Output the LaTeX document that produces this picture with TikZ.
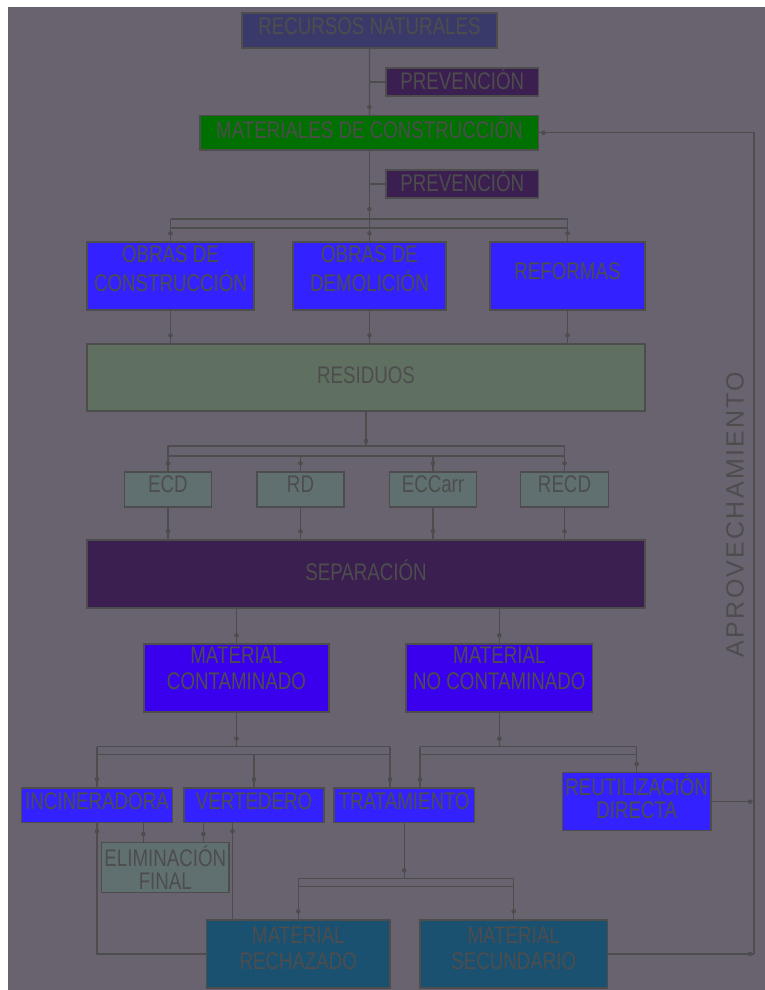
\documentclass[tikz,border=0pt]{standalone}
\usepackage{fontspec}
\setmainfont{Liberation Sans}
\newfontfamily\boxfont[FakeStretch=0.78]{Liberation Sans}
\newfontfamily\sidefont[LetterSpace=9]{Liberation Sans}
\usetikzlibrary{decorations.markings}
\definecolor{bg}{HTML}{69636F}
\definecolor{lc}{HTML}{4D4D4D}
\definecolor{crec}{HTML}{3A3A6A}
\definecolor{cprev}{HTML}{3B1F50}
\definecolor{cgreen}{HTML}{007000}
\definecolor{cblue}{HTML}{3322FF}
\definecolor{cviol}{HTML}{3A00EE}
\definecolor{cres}{HTML}{607060}
\definecolor{cgray}{HTML}{607070}
\definecolor{cteal}{HTML}{1A5070}
\newcommand\bt[2]{\raisebox{#1}[0pt][0pt]{\begin{tabular}{@{}c@{}}#2\end{tabular}}}
\tikzset{
  box/.style={draw=lc, line width=1.3pt, inner sep=0pt, text=lc,
    font=\boxfont\fontsize{24}{26}\selectfont},
  conn/.style={draw=lc, line width=1.3pt},
  dotto/.style={conn, postaction={decorate, decoration={markings,
    mark=at position -#1 with {\fill[lc] (0,0) circle (2.3pt);}}}},
  dotto/.default=8pt
}
\begin{document}
\begin{tikzpicture}[x=1pt,y=-1pt]
\useasboundingbox (0,0) rectangle (765,990);
\fill[white] (0,0) rectangle (765,990);
\fill[bg] (8,7) rectangle (765,990);

% nodes
\node[box, fill=crec, minimum width=255, minimum height=35] (rec) at (369.5,30.5) {\bt{-4.7pt}{RECURSOS NATURALES}};
\node[box, fill=cprev, minimum width=152.7, minimum height=28] (prev1) at (462.3,82) {\bt{-7.4pt}{PREVENCIÓN}};
\node[box, fill=cgreen, minimum width=338.7, minimum height=34.3] (mat) at (369.4,132.8) {\bt{-5pt}{MATERIALES DE CONSTRUCCIÓN}};
\node[box, fill=cprev, minimum width=152.7, minimum height=28] (prev2) at (462.3,184) {\bt{-7.4pt}{PREVENCIÓN}};

\node[box, fill=cblue, minimum width=167, minimum height=68] (oc) at (170.5,276) {\bt{-2pt}{OBRAS DE\\CONSTRUCCIÓN}};
\node[box, fill=cblue, minimum width=153, minimum height=68] (od) at (369.5,276) {\bt{-2pt}{OBRAS DE\\DEMOLICIÓN}};
\node[box, fill=cblue, minimum width=155, minimum height=68] (ref) at (567.5,276) {\bt{-4.4pt}{REFORMAS}};

\node[box, fill=cres, minimum width=558, minimum height=67] (res) at (366,377.5) {\bt{-7.4pt}{RESIDUOS}};

\node[box, fill=cgray, minimum width=87, minimum height=35] (ecd) at (168,489.5) {\bt{-4pt}{ECD}};
\node[box, fill=cgray, minimum width=87, minimum height=35] (rd) at (300.5,489.5) {\bt{-4pt}{RD}};
\node[box, fill=cgray, minimum width=87, minimum height=35] (ecc) at (433,489.5) {\bt{-4pt}{ECCarr}};
\node[box, fill=cgray, minimum width=88, minimum height=35] (recd) at (564.5,489.5) {\bt{-4pt}{RECD}};

\node[box, fill=cprev, minimum width=558, minimum height=68] (sep) at (366,574) {\bt{-6.4pt}{SEPARACIÓN}};

\node[box, fill=cviol, minimum width=185, minimum height=68] (mc) at (236.5,678) {\bt{0pt}{MATERIAL\\CONTAMINADO}};
\node[box, fill=cviol, minimum width=186.7, minimum height=68] (nc) at (499.3,678) {\bt{0pt}{MATERIAL\\NO CONTAMINADO}};

\node[box, fill=cblue, minimum width=150.6, minimum height=34.7] (inc) at (97,805.3) {\bt{-5pt}{INCINERADORA}};
\node[box, fill=cblue, minimum width=140, minimum height=34.7] (vert) at (254,805.3) {\bt{-5pt}{VERTEDERO}};
\node[box, fill=cblue, minimum width=140.3, minimum height=34.7] (trat) at (404.2,805.3) {\bt{-5pt}{TRATAMIENTO}};
\node[box, fill=cblue, minimum width=148.7, minimum height=58] (reu) at (636.7,801.7) {\fontsize{24}{20.5}\selectfont\bt{-4.6pt}{REUTILIZACIÓN\\DIRECTA}};

\node[box, fill=cgray, minimum width=127.3, minimum height=50] (elim) at (165.3,867.7) {\fontsize{24}{20.5}\selectfont\bt{-9pt}{ELIMINACIÓN\\FINAL}};

\node[box, fill=cteal, minimum width=183.3, minimum height=68] (rech) at (298.3,954) {\bt{-3.7pt}{MATERIAL\\RECHAZADO}};
\node[box, fill=cteal, minimum width=187.3, minimum height=68] (sec) at (513.7,954) {\bt{-3.7pt}{MATERIAL\\SECUNDARIO}};

\node[text=lc, font=\sidefont\fontsize{25}{26}\selectfont, rotate=90, inner sep=0pt] (apr) at (735,514.5) {APROVECHAMIENTO};

% helper coordinates
\coordinate (bA) at (0,219);
\coordinate (bA2) at (0,228);
\coordinate (bB) at (0,446);
\coordinate (bB2) at (0,456);
\coordinate (bC) at (0,746.7);
\coordinate (bC2) at (0,754.3);
\coordinate (bE) at (0,878.3);
\coordinate (bE2) at (0,886.7);
\coordinate (cR) at (390,746.7);
\coordinate (cR2) at (390,754.3);
\coordinate (dL) at (420,746.7);
\coordinate (dL2) at (420,754.3);
\coordinate (loopx) at (754,0);

% top chain
\draw[dotto] (rec.south) -- (mat.north);
\draw[conn] (rec.south |- prev1.west) -- (prev1.west);
\draw[dotto=10pt] (mat.south) -- (mat.south |- bA);
\draw[conn] (mat.south |- prev2.west) -- (prev2.west);

% bus A
\draw[conn] (oc.north |- bA) -- (ref.north |- bA);
\draw[conn] (oc.north |- bA2) -- (ref.north |- bA2);
\draw[dotto] (oc.north |- bA) -- (oc.north);
\draw[dotto] (od.north |- bA) -- (od.north);
\draw[dotto] (ref.north |- bA) -- (ref.north);

% obras -> residuos
\draw[dotto] (oc.south) -- (oc.south |- res.north);
\draw[dotto] (od.south) -- (od.south |- res.north);
\draw[dotto] (ref.south) -- (ref.south |- res.north);

% bus B
\draw[dotto=5pt] (res.south) -- (res.south |- bB);
\draw[conn] (ecd.north |- bB) -- (recd.north |- bB);
\draw[conn] (ecd.north |- bB2) -- (recd.north |- bB2);
\draw[dotto] (ecd.north |- bB) -- (ecd.north);
\draw[dotto] (rd.north |- bB2) -- (rd.north);
\draw[dotto] (ecc.north |- bB2) -- (ecc.north);
\draw[dotto] (recd.north |- bB) -- (recd.north);

% small boxes -> separacion
\draw[dotto] (ecd.south) -- (ecd.south |- sep.north);
\draw[dotto] (rd.south) -- (rd.south |- sep.north);
\draw[dotto] (ecc.south) -- (ecc.south |- sep.north);
\draw[dotto] (recd.south) -- (recd.south |- sep.north);

% separacion -> material
\draw[dotto] (mc.north |- sep.south) -- (mc.north);
\draw[dotto] (nc.north |- sep.south) -- (nc.north);

% bus C (contaminado)
\draw[dotto] (mc.south) -- (mc.south |- bC);
\draw[conn] (inc.north |- bC) -- (cR);
\draw[conn] (inc.north |- bC2) -- (cR2);
\draw[dotto] (inc.north |- bC) -- (inc.north);
\draw[dotto] (vert.north |- bC2) -- (vert.north);
\draw[dotto] (cR) -- (cR |- trat.north);

% bus D (no contaminado)
\draw[dotto] (nc.south) -- (nc.south |- bC);
\draw[conn] (dL) -- (reu.north |- bC);
\draw[conn] (dL2) -- (reu.north |- bC2);
\draw[dotto] (dL) -- (dL |- trat.north);
\draw[dotto] (reu.north |- bC) -- (reu.north);

% eliminacion
\draw[dotto] ([xshift=42.3pt]elim.north west |- inc.south) -- ([xshift=42.3pt]elim.north west);
\draw[dotto] ([xshift=102.3pt]elim.north west |- vert.south) -- ([xshift=102.3pt]elim.north west);

% rechazado back to incineradora and vertedero
\draw[dotto] (rech.west) -| (inc.south);
\draw[dotto] ([xshift=26.5pt]rech.north west) -- ([xshift=26.5pt]rech.north west |- vert.south);

% bus E (tratamiento)
\draw[dotto] (trat.south) -- (trat.south |- bE);
\draw[conn] (rech.north |- bE) -- (sec.north |- bE);
\draw[conn] (rech.north |- bE2) -- (sec.north |- bE2);
\draw[dotto] (rech.north |- bE) -- (rech.north);
\draw[dotto] (sec.north |- bE) -- (sec.north);

% aprovechamiento loop
\draw[dotto=4pt] (sec.east) -- (sec.east -| loopx);
\draw[dotto=4pt] (reu.east) -- (reu.east -| loopx);
\draw[dotto=4pt] (sec.east -| loopx) -- (mat.east -| loopx) -- (mat.east);
\end{tikzpicture}
\end{document}
